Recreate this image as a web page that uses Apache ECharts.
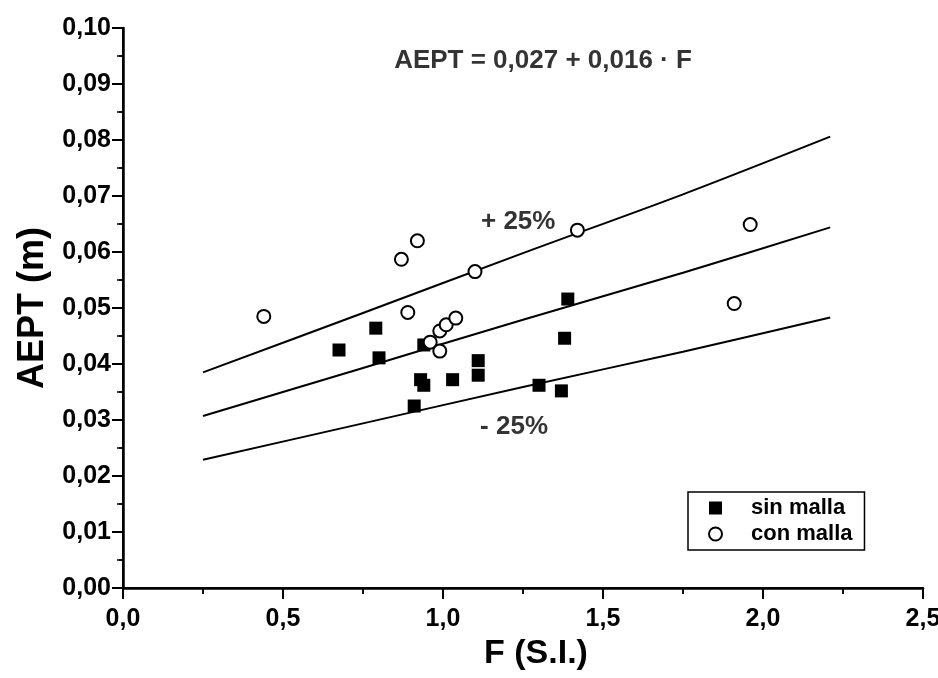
<!DOCTYPE html>
<html>
<head>
<meta charset="utf-8">
<script src="https://cdn.jsdelivr.net/npm/echarts@6/dist/echarts.min.js"></script>
<style>
  html, body { margin: 0; padding: 0; background: #fff; }
  #chart { width: 938px; height: 678px; }
</style>
</head>
<body>
<div id="chart"></div>
<script>
// sin malla (filled squares)
const sinF = [0.675, 0.79, 0.80, 0.94, 0.93, 0.94, 0.91, 1.03, 1.11, 1.11, 1.30, 1.37, 1.39, 1.38];
const sinV = [0.0425, 0.0464, 0.0411, 0.0434, 0.0372, 0.0362, 0.0325, 0.0372, 0.0406, 0.0380, 0.0362, 0.0352, 0.0516, 0.0446];

// con malla (open circles)
const conF = [0.44, 0.89, 0.87, 0.92, 1.10, 1.42, 0.96, 0.99, 0.99, 1.01, 1.04, 1.96, 1.91];
const conV = [0.0485, 0.0492, 0.0587, 0.0620, 0.0565, 0.0639, 0.0439, 0.0423, 0.0459, 0.0470, 0.0482, 0.0649, 0.0508];

// fitted line and +/- 25% band
const fitF = [0.25, 0.75, 1.25, 1.75, 2.21];
const fitUp = [0.0385, 0.0491, 0.0598, 0.0703, 0.0806];
const fitMid = [0.0307, 0.0393, 0.0479, 0.0563, 0.0644];
const fitLow = [0.0229, 0.0294, 0.0359, 0.0422, 0.0483];

// text notes placed in data coords
const noteText = ['AEPT = 0,027 + 0,016 · F', '+ 25%', '- 25%'];
const noteF = [1.3125, 1.235, 1.222];
const noteV = [0.0941, 0.0654, 0.0288];

const FONT = 'Liberation Sans';

const pairs = (xs, ys) => xs.map((x, i) => [x, ys[i]]);

const fitLine = (ys) => ({
  type: 'line',
  data: pairs(fitF, ys),
  smooth: 0.3,
  symbol: 'none',
  silent: true,
  lineStyle: { color: '#000', width: 2 },
  z: 2
});

const tickLabel = {
  color: '#000',
  fontFamily: FONT,
  fontWeight: 'bold',
  fontSize: 25
};

const chart = echarts.init(document.getElementById('chart'));

chart.setOption({
  animation: false,
  backgroundColor: '#fff',
  grid: { left: 123, right: 15, top: 28, bottom: 90, outerBoundsMode: 'none' },
  legend: {
    orient: 'vertical',
    left: 688,
    top: 492,
    data: ['sin malla', 'con malla'],
    padding: [5, 12, 5, 20],
    itemGap: 4,
    itemWidth: 13,
    itemHeight: 13,
    borderColor: '#000',
    borderWidth: 1.5,
    textStyle: {
      color: '#000',
      fontFamily: FONT,
      fontWeight: 'bold',
      fontSize: 22,
      padding: [0, 0, 0, 24]
    }
  },
  xAxis: [{
    type: 'value',
    min: 0,
    max: 2.5,
    interval: 0.5,
    name: 'F (S.I.)',
    nameLocation: 'middle',
    nameGap: 40,
    nameTextStyle: { color: '#000', fontFamily: FONT, fontWeight: 'bold', fontSize: 34, padding: [0, 0, 0, 26] },
    axisLine: { lineStyle: { color: '#000', width: 2.5 } },
    axisTick: { length: 11, lineStyle: { color: '#000', width: 2 } },
    minorTick: { show: true, splitNumber: 2, length: 6, lineStyle: { color: '#000', width: 1.5 } },
    axisLabel: Object.assign({ margin: 19, formatter: v => v.toFixed(1).replace('.', ',') }, tickLabel),
    splitLine: { show: false }
  }, {
    type: 'value',
    position: 'top',
    min: 0,
    max: 2.5,
    interval: 0.5,
    axisLine: { lineStyle: { color: '#000', width: 2 } },
    axisTick: { inside: true, length: 10, lineStyle: { color: '#000', width: 2 } },
    minorTick: { show: true, splitNumber: 2, length: 6, lineStyle: { color: '#000', width: 1.5 } },
    axisLabel: { show: false },
    splitLine: { show: false }
  }],
  yAxis: [{
    type: 'value',
    min: 0,
    max: 0.1,
    interval: 0.01,
    name: 'AEPT (m)',
    nameLocation: 'middle',
    nameGap: 70,
    nameTextStyle: { color: '#000', fontFamily: FONT, fontWeight: 'bold', fontSize: 36 },
    axisLine: { lineStyle: { color: '#000', width: 2.5 } },
    axisTick: { length: 11, lineStyle: { color: '#000', width: 2 } },
    minorTick: { show: true, splitNumber: 2, length: 6, lineStyle: { color: '#000', width: 1.5 } },
    axisLabel: Object.assign({ margin: 12, formatter: v => v.toFixed(2).replace('.', ',') }, tickLabel),
    splitLine: { show: false }
  }, {
    type: 'value',
    position: 'right',
    min: 0,
    max: 0.1,
    interval: 0.01,
    axisLine: { lineStyle: { color: '#000', width: 2 } },
    axisTick: { inside: true, length: 10, lineStyle: { color: '#000', width: 2 } },
    minorTick: { show: true, splitNumber: 2, length: 4, lineStyle: { color: '#000', width: 1.5 } },
    axisLabel: { show: false },
    splitLine: { show: false }
  }],
  series: [
    fitLine(fitUp),
    fitLine(fitMid),
    fitLine(fitLow),
    {
      name: 'sin malla',
      type: 'scatter',
      data: pairs(sinF, sinV),
      symbol: 'rect',
      symbolSize: 13,
      itemStyle: { color: '#000', opacity: 1 },
      z: 4
    },
    {
      name: 'con malla',
      type: 'scatter',
      data: pairs(conF, conV),
      symbol: 'emptyCircle',
      symbolSize: 13,
      itemStyle: { color: '#000', borderColor: '#000', borderWidth: 2, opacity: 1 },
      z: 5
    },
    {
      // annotations: equation and band labels
      type: 'scatter',
      data: noteF.map((f, i) => [f, noteV[i], noteText[i]]),
      symbolSize: 0,
      silent: true,
      label: {
        show: true,
        position: 'inside',
        formatter: p => p.value[2],
        color: '#000',
        fontFamily: FONT,
        fontWeight: 'bold',
        fontSize: 26
      },
      z: 6
    }
  ]
});
</script>
</body>
</html>
